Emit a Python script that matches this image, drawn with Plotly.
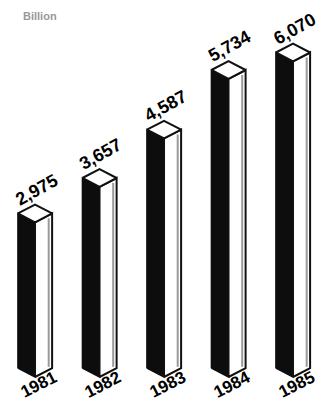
import plotly.graph_objects as go

years = ["1981", "1982", "1983", "1984", "1985"]
values = [2975, 3657, 4587, 5734, 6070]
value_labels = ["2,975", "3,657", "4,587", "5,734", "6,070"]

H = 0.265      # half width of the box (x units)
DZ = 170       # isometric drop (y units)
FONT = "Liberation Sans"

fig = go.Figure()
for i, v in enumerate(values):
    # left (dark) face
    fig.add_trace(go.Scatter(
        x=[i - H, i, i, i - H, i - H], y=[DZ, 0, v, v + DZ, DZ],
        mode="lines", fill="toself", fillcolor="#0d0d0d",
        line=dict(color="#0d0d0d", width=1.5), hoverinfo="skip", showlegend=False))
    # right (light) face
    fig.add_trace(go.Scatter(
        x=[i, i + H, i + H, i, i], y=[0, DZ, v + DZ, v, 0],
        mode="lines", fill="toself", fillcolor="#ffffff",
        line=dict(color="#111111", width=2), hoverinfo="skip", showlegend=False))
    # inner shading line on light face
    fig.add_trace(go.Scatter(
        x=[i + H * 0.8, i + H * 0.8], y=[DZ * 0.8 + 60, v + DZ * 0.8 - 60],
        mode="lines", line=dict(color="#9a9a9a", width=2),
        hoverinfo="skip", showlegend=False))
    # top face
    fig.add_trace(go.Scatter(
        x=[i - H, i, i + H, i, i - H], y=[v + DZ, v, v + DZ, v + 2 * DZ, v + DZ],
        mode="lines", fill="toself", fillcolor="#ffffff",
        line=dict(color="#111111", width=2), hoverinfo="skip", showlegend=False))
    fig.add_annotation(x=i + 0.02, y=v + 630, xref="x", yref="y",
                       text="<b>%s</b>" % value_labels[i], showarrow=False,
                       textangle=-29, font=dict(family=FONT, size=18, color="#000"))
    fig.add_annotation(x=i + 0.06, y=-150, xref="x", yref="y",
                       text="<b>%s</b>" % years[i], showarrow=False,
                       textangle=-27, font=dict(family=FONT, size=17, color="#000"))

fig.add_annotation(x=0.04, y=1.0, xref="paper", yref="paper", xanchor="left",
                   yanchor="top", text="<b>Billion</b>", showarrow=False,
                   font=dict(family=FONT, size=11, color="#999"))

fig.update_xaxes(range=[-0.419, 4.496], visible=False, fixedrange=True)
fig.update_yaxes(range=[-519, 7096], visible=False, fixedrange=True)
fig.update_layout(width=317, height=396, margin=dict(l=0, r=0, t=0, b=0),
                  paper_bgcolor="white", plot_bgcolor="white")
fig.write_html("out.html", config={"displayModeBar": False})
